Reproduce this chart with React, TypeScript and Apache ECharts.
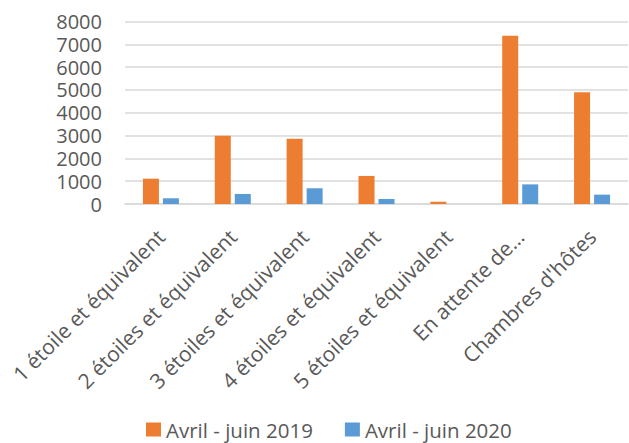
import React, { useEffect, useRef } from "react";
import * as echarts from "echarts";

const categories = [
  "1 étoile et équivalent",
  "2 étoiles et équivalent",
  "3 étoiles et équivalent",
  "4 étoiles et équivalent",
  "5 étoiles et équivalent",
  "En attente de…",
  "Chambres d'hôtes",
];
const series2019 = [1110, 2990, 2860, 1230, 100, 7370, 4900];
const series2020 = [250, 440, 690, 220, 0, 860, 410];
const seriesNames = ["Avril - juin 2019", "Avril - juin 2020"];
const yTicks = { min: 0, max: 8000, interval: 1000 };

const FONT = "'Open Sans', sans-serif";
const TEXT = "#595959";

export default function App() {
  const ref = useRef<HTMLDivElement>(null);
  useEffect(() => {
    if (!ref.current) return;
    const chart = echarts.init(ref.current, undefined, { renderer: "svg" });
    chart.setOption({
      animation: false,
      backgroundColor: "#ffffff",
      textStyle: { fontFamily: FONT },
      grid: { left: 125, right: 1, top: 21.5, bottom: 239, containLabel: false },
      legend: {
        left: 146,
        top: 419,
        padding: 0,
        itemWidth: 15,
        itemHeight: 14,
        itemGap: 32,
        icon: "rect",
        textStyle: { fontFamily: FONT, fontSize: 20.5, lineHeight: 21, color: TEXT, padding: 0 },
        data: seriesNames,
      },
      xAxis: {
        type: "category",
        data: categories,
        axisLine: { show: true, lineStyle: { color: "#D9D9D9", width: 1.5 } },
        axisTick: { show: false },
        axisLabel: {
          interval: 0,
          rotate: 45,
          margin: 29,
          fontFamily: FONT,
          fontSize: 21,
          lineHeight: 21,
          color: TEXT,
        },
      },
      yAxis: {
        type: "value",
        min: yTicks.min,
        max: yTicks.max,
        interval: yTicks.interval,
        axisLine: { show: false },
        axisTick: { show: false },
        splitLine: { lineStyle: { color: "#D9D9D9", width: 1.5 } },
        axisLabel: {
          margin: 23,
          fontFamily: FONT,
          fontSize: 20,
          lineHeight: 20,
          color: TEXT,
          formatter: (v: number) => String(v),
        },
      },
      series: [
        {
          name: seriesNames[0],
          type: "bar",
          data: series2019,
          barWidth: 16,
          barGap: "25%",
          itemStyle: { color: "#ED7D31" },
        },
        {
          name: seriesNames[1],
          type: "bar",
          data: series2020,
          barWidth: 16,
          barGap: "25%",
          itemStyle: { color: "#5B9BD5" },
        },
      ],
    });
    return () => chart.dispose();
  }, []);
  return (
    <div
      ref={ref}
      style={{ position: "fixed", left: 0, top: 0, width: 629, height: 443, background: "#fff" }}
    />
  );
}
